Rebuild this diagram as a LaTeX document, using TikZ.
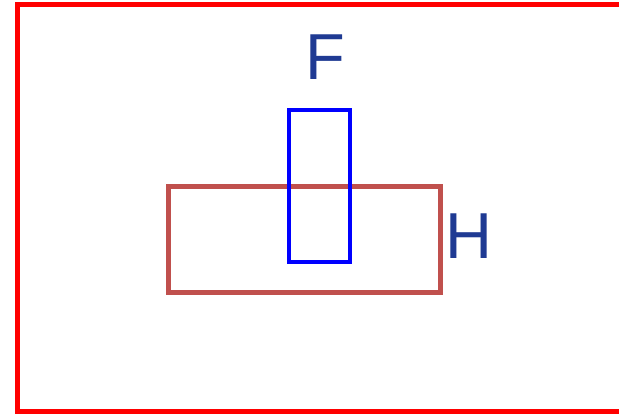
\documentclass[tikz,border=0pt]{standalone}
\usepackage{fontspec}
\setmainfont{Liberation Sans}
\definecolor{framered}{HTML}{FF0000}
\definecolor{boxbrown}{HTML}{C0504D}
\definecolor{boxblue}{HTML}{0000FF}
\definecolor{labelblue}{HTML}{1F3A93}
\tikzset{
  frame/.style={draw=framered, line width=5pt},
  hbox/.style={draw=boxbrown, line width=5pt},
  fbox/.style={draw=boxblue, line width=4pt},
  lbl/.style={text=labelblue, font=\fontsize{65}{65}\selectfont, inner sep=0pt, anchor=center}
}
\begin{document}
\begin{tikzpicture}[x=1pt, y=-1pt]
\clip (0,0) rectangle (619,414);
\useasboundingbox (0,0) rectangle (619,414);
\path[frame] (17.5,4.8) rectangle (640,411.5);
\path[hbox] (168,186.7) rectangle (440.7,292.7);
\path[fbox] (289,110.5) rectangle (350,262);
\node[lbl] (F) at (325,57.5) {F};
\node[lbl] (H) at (469,236.5) {H};
\end{tikzpicture}
\end{document}
